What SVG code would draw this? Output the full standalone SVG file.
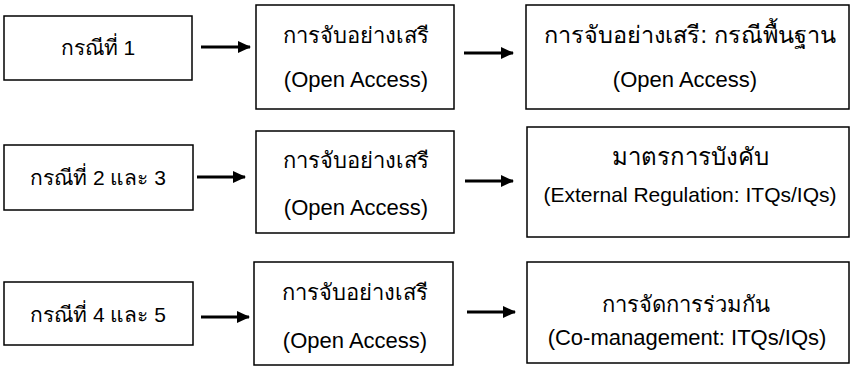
<svg xmlns="http://www.w3.org/2000/svg" width="850" height="367" viewBox="0 0 850 367">
<defs>
<style>
.box{fill:#fff;stroke:#000;stroke-width:1.5}
.t{font-family:"Liberation Sans","Noto Sans",sans-serif;font-size:22px;fill:#000;text-anchor:middle}
.th{font-family:"Liberation Sans","Noto Sans",sans-serif;font-size:22px;fill:#000;text-anchor:middle}
.l{font-family:"Liberation Sans","Noto Sans",sans-serif;font-size:21px;fill:#000;text-anchor:middle}
.arr{stroke:#000;stroke-width:3;fill:none;marker-end:url(#ah)}
</style>
<marker id="ah" markerUnits="userSpaceOnUse" markerWidth="14" markerHeight="12" refX="12" refY="6" orient="auto">
<path d="M0,0 L13,6 L0,12 Z" fill="#000"/>
</marker>
</defs>
<rect width="850" height="367" fill="#fff"/>
<g id="case1">
<rect class="box" x="4" y="16" width="188" height="64"/>
<text class="l" x="98" y="55">กรณีที่ 1</text>
</g>
<g id="open1">
<rect class="box" x="256" y="5" width="198" height="104"/>
<text class="th" x="356" y="43">การจับอย่างเสรี</text>
<text class="t" x="356" y="87">(Open Access)</text>
</g>
<g id="base1">
<rect class="box" x="526" y="5" width="323" height="104"/>
<text class="th" x="690" y="43" style="font-size:23.5px">การจับอย่างเสรี: กรณีพื้นฐาน</text>
<text class="t" x="685" y="87">(Open Access)</text>
</g>
<g id="case23">
<rect class="box" x="4" y="145" width="189" height="65"/>
<text class="l" x="98" y="185">กรณีที่ 2 และ 3</text>
</g>
<g id="open2">
<rect class="box" x="256" y="131" width="198" height="102"/>
<text class="th" x="356" y="168">การจับอย่างเสรี</text>
<text class="t" x="356" y="215">(Open Access)</text>
</g>
<g id="ext">
<rect class="box" x="527" y="127" width="322" height="110"/>
<text class="th" x="690" y="165" style="font-size:24px">มาตรการบังคับ</text>
<text class="t" x="690" y="202" style="font-size:21px">(External Regulation: ITQs/IQs)</text>
</g>
<g id="case45">
<rect class="box" x="4" y="282" width="189" height="63"/>
<text class="l" x="98" y="322">กรณีที่ 4 และ 5</text>
</g>
<g id="open3">
<rect class="box" x="254" y="262" width="199" height="103"/>
<text class="th" x="355" y="300">การจับอย่างเสรี</text>
<text class="t" x="355" y="348">(Open Access)</text>
</g>
<g id="comgmt">
<rect class="box" x="527" y="262" width="322" height="101"/>
<text class="th" x="686" y="312">การจัดการร่วมกัน</text>
<text class="t" x="687" y="345">(Co-management: ITQs/IQs)</text>
</g>
<g id="connectors">
<line class="arr" x1="201" y1="47" x2="250" y2="47"/>
<line class="arr" x1="464" y1="53" x2="513" y2="53"/>
<line class="arr" x1="197" y1="177" x2="245" y2="177"/>
<line class="arr" x1="465" y1="181" x2="513" y2="181"/>
<line class="arr" x1="201" y1="317" x2="249" y2="317"/>
<line class="arr" x1="467" y1="312" x2="515" y2="312"/>
</g>
</svg>
